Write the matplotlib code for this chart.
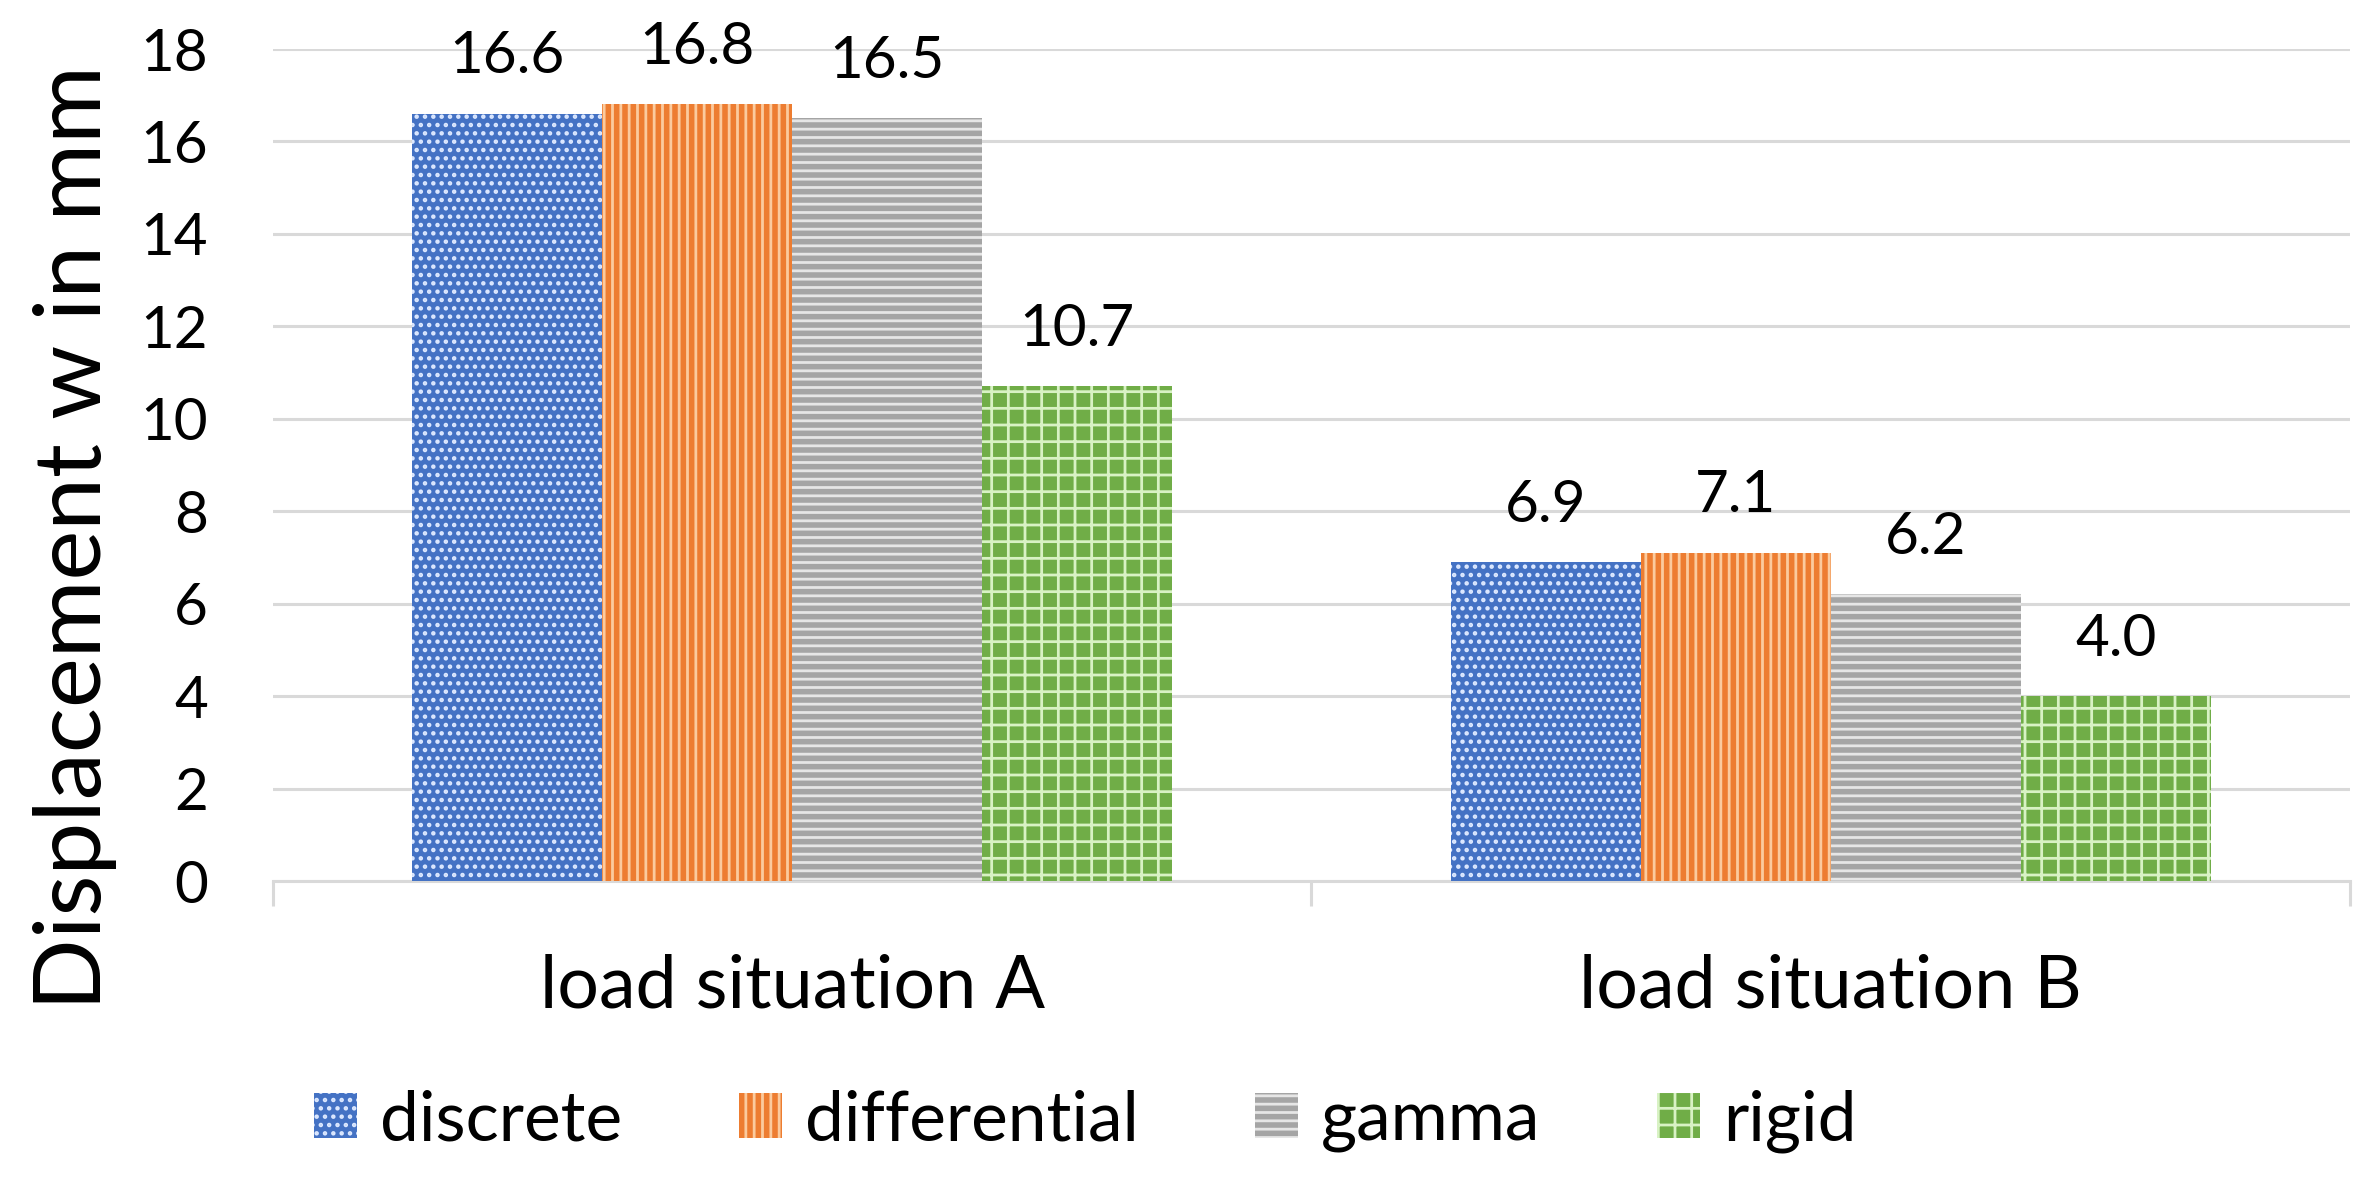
import numpy as np
import matplotlib
matplotlib.use("Agg")
import matplotlib.pyplot as plt

# data
categories = ["load situation A", "load situation B"]
series_names = ["discrete", "differential", "gamma", "rigid"]
discrete = [16.6, 6.9]
differential = [16.8, 7.1]
gamma = [16.5, 6.2]
rigid = [10.7, 4.0]
y_ticks = [0, 2, 4, 6, 8, 10, 12, 14, 16, 18]

plt.rcParams["font.family"] = ["Lato", "DejaVu Sans"]
plt.rcParams["hatch.linewidth"] = 2.0

face_colors = ["#4472C4", "#ED7D31", "#A5A5A5", "#70AD47"]
hatch_colors = ["#DCE8FF", "#FBCB9E", "#E6E6E6", "#D8F2C4"]
hatches = ["..", "||", "--", "+"]
grid_color = "#D9D9D9"

fig = plt.figure(figsize=(23.8, 11.78), dpi=100)
ax = fig.add_axes([0.1147, 0.2521, 0.8727, 0.7063])

x = np.arange(len(categories))
bar_w = 0.183
all_series = [discrete, differential, gamma, rigid]

for i, (name, vals) in enumerate(zip(series_names, all_series)):
    pos = x + (i - 1.5) * bar_w
    bars = ax.bar(pos, vals, width=bar_w, color=face_colors[i],
                  edgecolor=hatch_colors[i], linewidth=0, hatch=hatches[i],
                  label=name, zorder=3)
    for rect, v in zip(bars, vals):
        ax.annotate(f"{v:.1f}", (rect.get_x() + rect.get_width() / 2, v),
                    xytext=(0, 22), textcoords="offset points",
                    ha="center", va="bottom", fontsize=42, color="black")

ax.set_xlim(-0.5, 1.5)
ax.set_ylim(0, 18)
ax.set_yticks(y_ticks)
ax.set_xticks(x)
ax.set_xticklabels(categories)
ax.set_xticks([-0.5, 0.5, 1.5], minor=True)

ax.grid(axis="y", color=grid_color, linewidth=2.2, zorder=0)
for s in ["top", "right", "left"]:
    ax.spines[s].set_visible(False)
ax.spines["bottom"].set_color(grid_color)
ax.spines["bottom"].set_linewidth(2.2)

ax.tick_params(axis="y", length=0, pad=47, labelsize=42)
ax.tick_params(axis="x", which="major", length=0, pad=52, labelsize=53)
ax.tick_params(axis="x", which="minor", length=18, width=2.2, color=grid_color)

fig.text(75 / 2380, 1 - 538 / 1178, "Displacement w in mm", rotation=90,
         ha="center", va="center", fontsize=68)

ax.legend(loc="center left", bbox_to_anchor=(314 / 2380, 1 - 1121 / 1178),
          bbox_transform=fig.transFigure, ncol=4, frameon=False, fontsize=50,
          handlelength=0.62, handleheight=0.62, handletextpad=0.33,
          columnspacing=1.68, borderpad=0, borderaxespad=0)

fig.savefig("out.png", dpi=100)
